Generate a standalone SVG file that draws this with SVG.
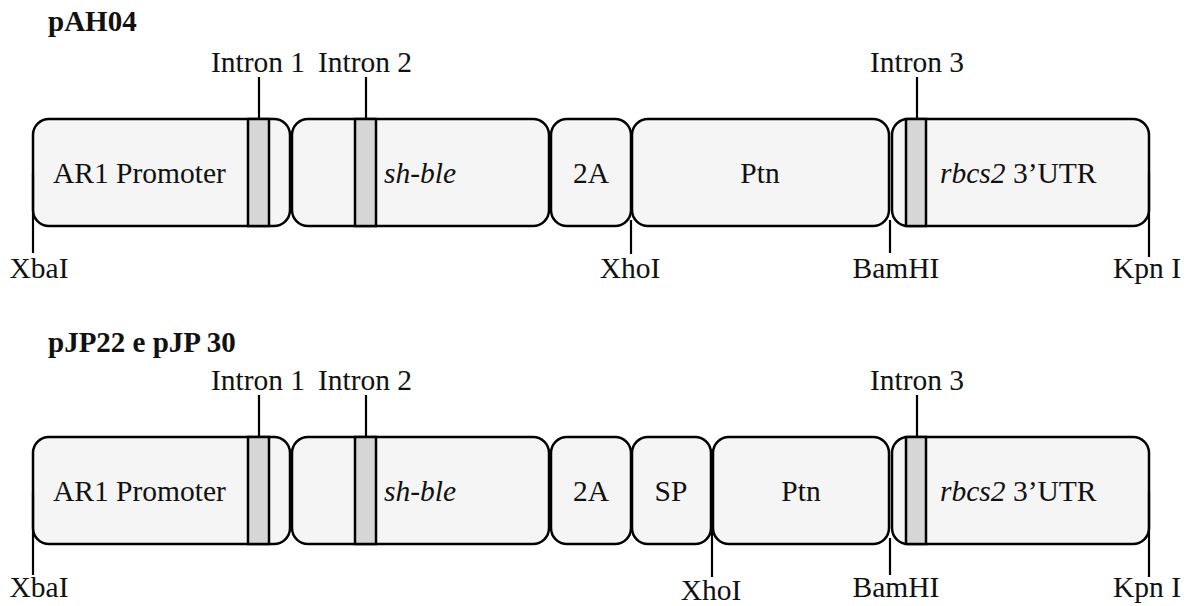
<svg xmlns="http://www.w3.org/2000/svg" width="1192" height="606" viewBox="0 0 1192 606">
<style>
  .seg { fill: #f5f5f5; stroke: #000; stroke-width: 2.5; }
  .intron { fill: #d6d6d6; stroke: #000; stroke-width: 2.5; }
  .ln { stroke: #000; stroke-width: 2.2; fill: none; }
  text { font-family: "Liberation Serif", "Times New Roman", serif; font-size: 29.5px; fill: #111; }
  .t { font-weight: bold; font-size: 29px; }
  .c { text-anchor: middle; }
  .i { font-style: italic; }
</style>
<rect width="1192" height="606" fill="#fff"/>

<!-- Row 1: pAH04 -->
<g id="row1">
  <text class="t" x="48" y="31">pAH04</text>
  <g id="r1-promoter">
    <rect class="seg" x="33" y="119" width="257" height="107" rx="16"/>
    <rect class="intron" x="248" y="119" width="21" height="107"/>
    <text x="53" y="183">AR1 Promoter</text>
  </g>
  <g id="r1-shble">
    <rect class="seg" x="292" y="119" width="257" height="107" rx="16"/>
    <rect class="intron" x="355" y="119" width="21" height="107"/>
    <text class="c i" x="420" y="183">sh-ble</text>
  </g>
  <g id="r1-2a">
    <rect class="seg" x="551" y="119" width="80" height="107" rx="16"/>
    <text class="c" x="591" y="183">2A</text>
  </g>
  <g id="r1-ptn">
    <rect class="seg" x="632" y="119" width="257" height="107" rx="16"/>
    <text class="c" x="760" y="183">Ptn</text>
  </g>
  <g id="r1-utr">
    <rect class="seg" x="892" y="119" width="257" height="107" rx="16"/>
    <rect class="intron" x="906" y="119" width="20" height="107"/>
    <text x="940" y="183"><tspan class="i">rbcs2</tspan> 3’UTR</text>
  </g>
  <g id="r1-labels">
    <text class="c" x="258" y="72">Intron 1</text>
    <text class="c" x="365" y="72">Intron 2</text>
    <text class="c" x="917" y="72">Intron 3</text>
    <text class="c" x="39" y="278">XbaI</text>
    <text class="c" x="630" y="278">XhoI</text>
    <text class="c" x="896" y="278">BamHI</text>
    <text class="c" x="1147" y="278">Kpn I</text>
  </g>
</g>

<!-- Row 2: pJP22 e pJP 30 -->
<g id="row2">
  <text class="t" x="48" y="352">pJP22 e pJP 30</text>
  <g id="r2-promoter">
    <rect class="seg" x="33" y="437" width="257" height="107" rx="16"/>
    <rect class="intron" x="248" y="437" width="21" height="107"/>
    <text x="53" y="501">AR1 Promoter</text>
  </g>
  <g id="r2-shble">
    <rect class="seg" x="292" y="437" width="257" height="107" rx="16"/>
    <rect class="intron" x="355" y="437" width="21" height="107"/>
    <text class="c i" x="420" y="501">sh-ble</text>
  </g>
  <g id="r2-2a">
    <rect class="seg" x="551" y="437" width="80" height="107" rx="16"/>
    <text class="c" x="591" y="501">2A</text>
  </g>
  <g id="r2-sp">
    <rect class="seg" x="632" y="437" width="79" height="107" rx="16"/>
    <text class="c" x="671" y="501">SP</text>
  </g>
  <g id="r2-ptn">
    <rect class="seg" x="713" y="437" width="176" height="107" rx="16"/>
    <text class="c" x="801" y="501">Ptn</text>
  </g>
  <g id="r2-utr">
    <rect class="seg" x="892" y="437" width="257" height="107" rx="16"/>
    <rect class="intron" x="906" y="437" width="20" height="107"/>
    <text x="940" y="501"><tspan class="i">rbcs2</tspan> 3’UTR</text>
  </g>
  <g id="r2-labels">
    <text class="c" x="258" y="390">Intron 1</text>
    <text class="c" x="365" y="390">Intron 2</text>
    <text class="c" x="917" y="390">Intron 3</text>
    <text class="c" x="39" y="597">XbaI</text>
    <text class="c" x="711" y="600">XhoI</text>
    <text class="c" x="896" y="597">BamHI</text>
    <text class="c" x="1147" y="597">Kpn I</text>
  </g>
</g>

<!-- connectors / leader lines -->
<g id="connectors">
  <line class="ln" x1="259" y1="77" x2="259" y2="119"/>
  <line class="ln" x1="366" y1="77" x2="366" y2="119"/>
  <line class="ln" x1="917" y1="77" x2="917" y2="119"/>
  <line class="ln" x1="33" y1="173" x2="33" y2="253"/>
  <line class="ln" x1="631" y1="220" x2="631" y2="254"/>
  <line class="ln" x1="890" y1="220" x2="890" y2="253"/>
  <line class="ln" x1="1149" y1="173" x2="1149" y2="257"/>

  <line class="ln" x1="259" y1="395" x2="259" y2="437"/>
  <line class="ln" x1="366" y1="395" x2="366" y2="437"/>
  <line class="ln" x1="917" y1="395" x2="917" y2="437"/>
  <line class="ln" x1="33" y1="492" x2="33" y2="575"/>
  <line class="ln" x1="712" y1="490" x2="712" y2="577"/>
  <line class="ln" x1="890" y1="538" x2="890" y2="575"/>
  <line class="ln" x1="1149" y1="492" x2="1149" y2="577"/>
</g>
</svg>
